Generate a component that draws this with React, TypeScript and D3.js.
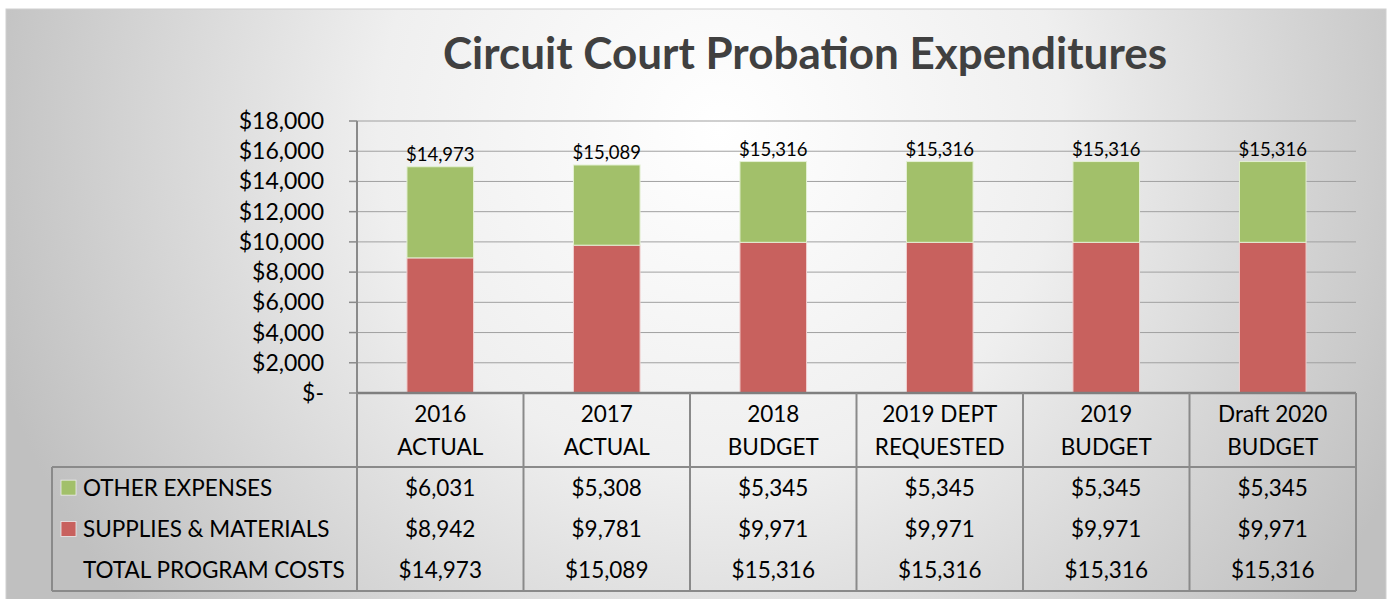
import React from "react";
import * as d3 from "d3";

const categoriesLine1 = ["2016", "2017", "2018", "2019 DEPT", "2019", "Draft 2020"];
const categoriesLine2 = ["ACTUAL", "ACTUAL", "BUDGET", "REQUESTED", "BUDGET", "BUDGET"];
const otherExpenses = [6031, 5308, 5345, 5345, 5345, 5345];
const suppliesMaterials = [8942, 9781, 9971, 9971, 9971, 9971];
const totalCosts = [14973, 15089, 15316, 15316, 15316, 15316];
const yTicks = [0, 2000, 4000, 6000, 8000, 10000, 12000, 14000, 16000, 18000];
const seriesNames = ["OTHER EXPENSES", "SUPPLIES & MATERIALS", "TOTAL PROGRAM COSTS"];

const W = 1390;
const H = 599;
const FONT = "Lato, 'Open Sans', sans-serif";
const GREEN = "#a2c06a";
const RED = "#c8615e";
const LINE = "#8a8a8a";

export default function App() {
  const plotL = 357, plotR = 1356, plotT = 121, plotB = 393;
  const x = d3.scaleBand<number>().domain(d3.range(categoriesLine1.length)).range([plotL, plotR]).padding(0);
  const y = d3.scaleLinear().domain([0, 18000]).range([plotB, plotT]);
  const bw = x.bandwidth();
  const barW = bw * 0.4;
  const fmt = (v: number) => (v === 0 ? "$-" : "$" + d3.format(",")(v));

  const tableL = 52, headerB = 467, rowH = 41.3;
  const tableB = headerB + rowH * 3;
  const rows = [otherExpenses, suppliesMaterials, totalCosts];
  const legendColors = [GREEN, RED, null];
  const TS = 22.5;

  return (
    <svg width={W} height={H} style={{ position: "absolute", left: 0, top: 0, display: "block" }}>
      <defs>
        <radialGradient id="bg" gradientUnits="userSpaceOnUse" cx={720} cy={130} r={760}>
          <stop offset="0" stopColor="#ffffff" />
          <stop offset="0.45" stopColor="#efefef" />
          <stop offset="1" stopColor="#c0c0c0" />
        </radialGradient>
      </defs>
      <rect x={0} y={0} width={W} height={H} fill="#ffffff" />
      <rect x={6} y={9} width={1380} height={592} fill="url(#bg)" stroke="#d0d0d0" strokeWidth={1} />

      <text x={805} y={69} textAnchor="middle" fontFamily={FONT} fontWeight={700} fontSize={44} fill="#404040">
        Circuit Court Probation Expenditures
      </text>

      {yTicks.slice(1).map((t) => (
        <line key={"g" + t} x1={plotL} x2={plotR} y1={y(t)} y2={y(t)} stroke="#a0a0a0" strokeWidth={1} />
      ))}
      <line x1={plotL} x2={plotL} y1={plotT} y2={plotB} stroke={LINE} strokeWidth={2} />
      {yTicks.map((t) => (
        <g key={"t" + t}>
          <line x1={349} x2={plotL} y1={y(t)} y2={y(t)} stroke={LINE} strokeWidth={1.5} />
          <text x={324} y={y(t)} dy="0.35em" textAnchor="end" fontFamily={FONT} fontSize={23} fill="#000">
            {fmt(t)}
          </text>
        </g>
      ))}

      {categoriesLine1.map((_, i) => {
        const cx = (x(i) as number) + bw / 2;
        const s = suppliesMaterials[i];
        const o = otherExpenses[i];
        return (
          <g key={"b" + i}>
            <rect x={cx - barW / 2} y={y(s)} width={barW} height={y(0) - y(s)} fill={RED} stroke="#f0d0d0" strokeWidth={1} />
            <rect x={cx - barW / 2} y={y(s + o)} width={barW} height={y(s) - y(s + o)} fill={GREEN} stroke="#e4f0d4" strokeWidth={1} />
            <text x={cx} y={y(totalCosts[i]) - 6} textAnchor="middle" fontFamily={FONT} fontSize={18.5} fill="#000">
              {fmt(totalCosts[i])}
            </text>
          </g>
        );
      })}

      <line x1={plotL} x2={plotR} y1={plotB} y2={plotB} stroke="#7f7f7f" strokeWidth={2.5} />

      {categoriesLine1.map((_, i) => {
        const cx = (x(i) as number) + bw / 2;
        return (
          <g key={"h" + i}>
            <text x={cx} y={414} dy="0.35em" textAnchor="middle" fontFamily={FONT} fontSize={TS} fill="#000">
              {categoriesLine1[i]}
            </text>
            <text x={cx} y={447} dy="0.35em" textAnchor="middle" fontFamily={FONT} fontSize={TS} fill="#000">
              {categoriesLine2[i]}
            </text>
          </g>
        );
      })}
      {d3.range(categoriesLine1.length + 1).map((i) => {
        const xx = i < categoriesLine1.length ? (x(i) as number) : plotR;
        return <line key={"v" + i} x1={xx} x2={xx} y1={plotB} y2={tableB} stroke={LINE} strokeWidth={2} />;
      })}
      <line x1={tableL} x2={plotR} y1={headerB} y2={headerB} stroke={LINE} strokeWidth={2} />
      <line x1={tableL} x2={plotR} y1={tableB} y2={tableB} stroke={LINE} strokeWidth={2} />
      <line x1={tableL} x2={tableL} y1={headerB} y2={tableB} stroke={LINE} strokeWidth={2} />

      {rows.map((vals, r) => {
        const cy = headerB + rowH * r + rowH / 2;
        const c = legendColors[r];
        return (
          <g key={"r" + r}>
            {c && <rect x={61} y={cy - 7.5} width={15} height={15} fill={c} stroke="#eeeeee" strokeWidth={0.8} />}
            <text x={83} y={cy} dy="0.35em" fontFamily={FONT} fontSize={TS} fill="#000">
              {seriesNames[r]}
            </text>
            {vals.map((v, i) => (
              <text key={i} x={(x(i) as number) + bw / 2} y={cy} dy="0.35em" textAnchor="middle" fontFamily={FONT} fontSize={TS} fill="#000">
                {fmt(v)}
              </text>
            ))}
          </g>
        );
      })}
    </svg>
  );
}
